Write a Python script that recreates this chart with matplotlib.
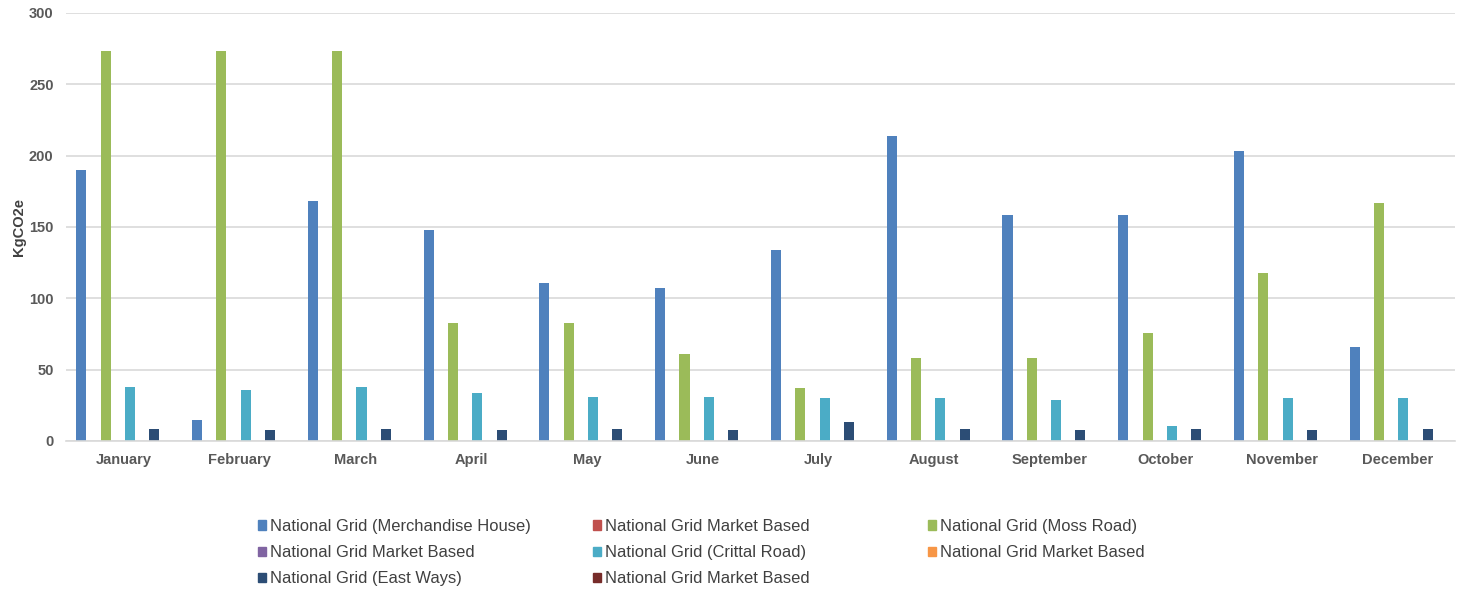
import matplotlib.pyplot as plt
import matplotlib.patches as mpatches
import numpy as np

plt.rcParams['font.family'] = ['Liberation Sans', 'DejaVu Sans']

months = ['January', 'February', 'March', 'April', 'May', 'June', 'July',
          'August', 'September', 'October', 'November', 'December']

merchandise_house = [190, 15, 168, 148, 111, 107, 134, 214, 158, 158, 203, 66]
market_1 = [0] * 12
moss_road = [273, 273, 273, 83, 83, 61, 37, 58, 58, 76, 118, 167]
market_2 = [0] * 12
crittal_road = [38, 35.5, 38, 33.5, 31, 30.5, 30, 30, 29, 10.5, 30, 30]
market_3 = [0] * 12
east_ways = [8.5, 8, 8.5, 8, 8.5, 8, 13, 8.5, 8, 8.5, 8, 8.5]
market_4 = [0] * 12

series = [
    ('National Grid (Merchandise House)', merchandise_house, '#4F81BD'),
    ('National Grid Market Based', market_1, '#C0504D'),
    ('National Grid (Moss Road)', moss_road, '#9BBB59'),
    ('National Grid Market Based', market_2, '#8064A2'),
    ('National Grid (Crittal Road)', crittal_road, '#4BACC6'),
    ('National Grid Market Based', market_3, '#F79646'),
    ('National Grid (East Ways)', east_ways, '#2C4D75'),
    ('National Grid Market Based', market_4, '#772C2A'),
]

fig = plt.figure(figsize=(14.67, 5.89), dpi=100)
ax = fig.add_axes([0.045, 0.2513, 0.947, 0.727])

x = np.arange(len(months))
slot = 0.105
width = 0.087
n = len(series)
for i, (label, vals, color) in enumerate(series):
    ax.bar(x + (i - (n - 1) / 2) * slot, vals, width, color=color, label=label)

ax.set_xlim(-0.5, len(months) - 0.5)
ax.set_ylim(0, 300)
ax.set_yticks(range(0, 301, 50))
ax.set_xticks(x)
ax.set_xticklabels(months)
ax.yaxis.grid(True, color='#D9D9D9', linewidth=1.2)
ax.set_axisbelow(True)
for s in ['top', 'right', 'left']:
    ax.spines[s].set_visible(False)
ax.spines['bottom'].set_color('#D9D9D9')
ax.spines['bottom'].set_linewidth(1.2)
ax.tick_params(length=0, colors='#595959', labelsize=10.5, pad=9)
for t in ax.get_xticklabels() + ax.get_yticklabels():
    t.set_fontweight('bold')
ax.set_ylabel('KgCO2e', fontsize=10.5, fontweight='bold', color='#404040', labelpad=2)

# legend laid out row by row in three equal columns
cols = [[0, 3, 6], [1, 4, 7], [2, 5]]
col_x = [258 / 1467, 593 / 1467, 928 / 1467]
for cx, idx in zip(col_x, cols):
    handles = [mpatches.Patch(color=series[k][2]) for k in idx]
    labels = [series[k][0] for k in idx]
    fig.legend(handles, labels, loc='upper left', bbox_to_anchor=(cx, 1 - 519 / 589),
               frameon=False, fontsize=11.9, handlelength=0.5, handleheight=0.5,
               handletextpad=0.2, labelspacing=0.68, borderpad=0, borderaxespad=0,
               labelcolor='#404040')

fig.savefig('out.png', dpi=100)
